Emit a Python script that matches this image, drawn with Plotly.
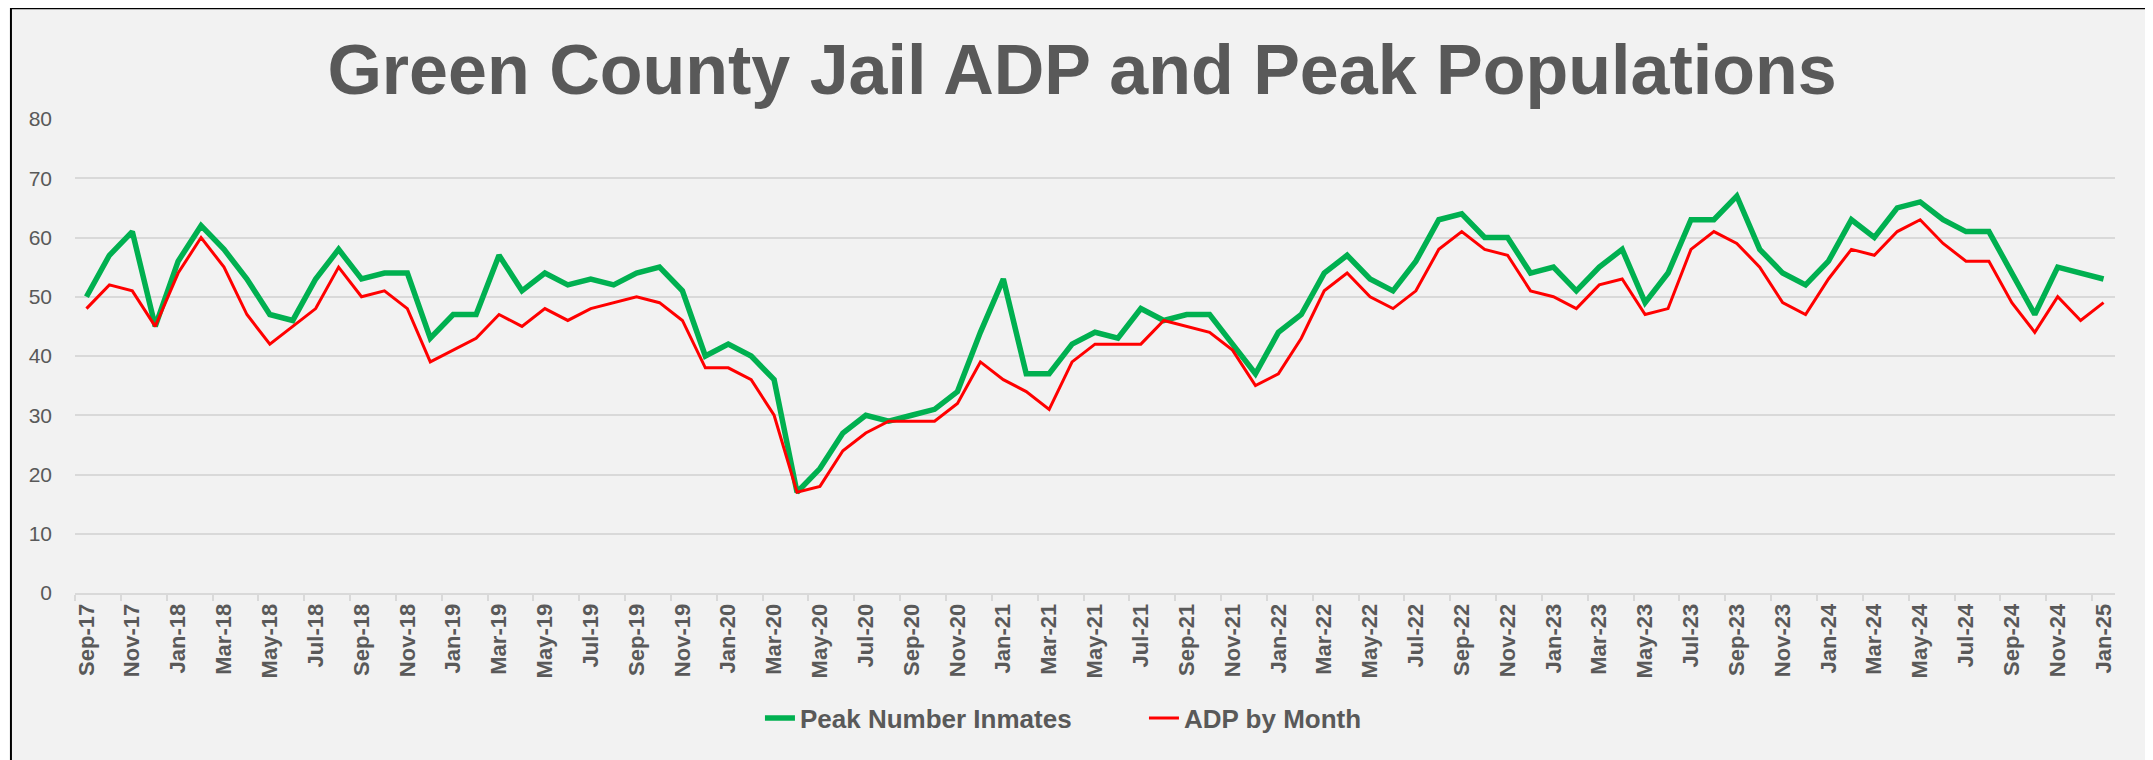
import pandas as pd
import plotly.graph_objects as go

# monthly categories, Sep-17 .. Jan-25
months = pd.date_range("2017-09-01", "2025-01-01", freq="MS").strftime("%b-%y").tolist()

peak_inmates = [
    50, 57, 61, 45, 56, 62, 58, 53, 47, 46, 53, 58, 53, 54, 54, 43, 47, 47, 57, 51,
    54, 52, 53, 52, 54, 55, 51, 40, 42, 40, 36, 17, 21, 27, 30, 29, 30, 31, 34, 44,
    53, 37, 37, 42, 44, 43, 48, 46, 47, 47, 42, 37, 44, 47, 54, 57, 53, 51, 56, 63,
    64, 60, 60, 54, 55, 51, 55, 58, 49, 54, 63, 63, 67, 58, 54, 52, 56, 63, 60, 65,
    66, 63, 61, 61, 54, 47, 55, 54, 53,
]

adp_by_month = [
    48, 52, 51, 45, 54, 60, 55, 47, 42, 45, 48, 55, 50, 51, 48, 39, 41, 43, 47, 45,
    48, 46, 48, 49, 50, 49, 46, 38, 38, 36, 30, 17, 18, 24, 27, 29, 29, 29, 32, 39,
    36, 34, 31, 39, 42, 42, 42, 46, 45, 44, 41, 35, 37, 43, 51, 54, 50, 48, 51, 58,
    61, 58, 57, 51, 50, 48, 52, 53, 47, 48, 58, 61, 59, 55, 49, 47, 53, 58, 57, 61,
    63, 59, 56, 56, 49, 44, 50, 46, 49,
]

grey = "#595959"
font = "Liberation Sans, Arial"

fig = go.Figure()
fig.add_trace(go.Scatter(x=months, y=peak_inmates, mode="lines", name="Peak Number Inmates",
                         line=dict(color="#00B050", width=5.5)))
fig.add_trace(go.Scatter(x=months, y=adp_by_month, mode="lines", name="ADP by Month",
                         line=dict(color="#FF0000", width=3)))

# chart frame (page body has an 8px margin, figure is sized to fit)
fig.add_shape(type="rect", xref="paper", yref="paper",
              x0=-0.0314, x1=1.0176, y0=-0.42, y1=1.2334,
              fillcolor="#F2F2F2", line=dict(color="black", width=2), layer="below")

fig.update_layout(
    width=2145, height=752,
    margin=dict(l=67, r=38, t=111, b=167),
    paper_bgcolor="white",
    plot_bgcolor="rgba(0,0,0,0)",
    title=dict(text="<b>Green County Jail ADP and Peak Populations</b>",
               x=0.5007, xanchor="center", y=1 - 61 / 752, yanchor="middle",
               font=dict(family=font, size=70, color=grey)),
    showlegend=True,
    legend=dict(orientation="h", x=0.524, xanchor="center", y=-0.264, yanchor="middle",
                entrywidth=339, entrywidthmode="pixels",
                font=dict(family=font, size=26, color=grey, weight="bold"),
                bgcolor="rgba(0,0,0,0)"),
    font=dict(family=font, color=grey),
)

fig.update_xaxes(
    type="category", dtick=2, tickangle=-90, tickson="boundaries",
    ticks="outside", ticklen=6, tickcolor="#D9D9D9", tickwidth=2,
    showgrid=False, showline=True, linecolor="#D9D9D9", linewidth=2,
    tickfont=dict(size=22, color=grey, weight="bold"),
    range=[-0.5, len(months) - 0.5],
)
fig.update_yaxes(
    range=[0, 80], dtick=10, showgrid=True, gridcolor="#D9D9D9", gridwidth=1.5,
    zeroline=False, showline=False, ticks="", ticklabelstandoff=22,
    tickfont=dict(size=21, color=grey),
)

fig.write_html("out.html")
